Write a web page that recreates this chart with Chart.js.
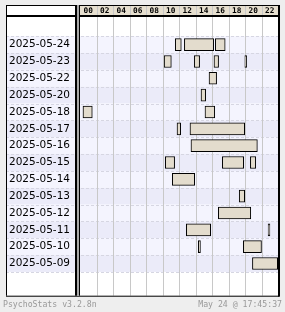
<!DOCTYPE html>
<html>
<head>
<meta charset="utf-8">
<script src="https://cdn.jsdelivr.net/npm/chart.js@4"></script>
<style>
  html, body { margin: 0; padding: 0; background: #eeeeee; }
  #wrap { width: 285px; height: 312px; position: relative; }
</style>
</head>
<body>
<div id="wrap"><canvas id="c"></canvas></div>
<script>
// rows, top to bottom
const days = ['2025-05-24', '2025-05-23', '2025-05-22', '2025-05-20', '2025-05-18', '2025-05-17', '2025-05-16',
              '2025-05-15', '2025-05-14', '2025-05-13', '2025-05-12', '2025-05-11', '2025-05-10', '2025-05-09'];
const hourLabels = ['00', '02', '04', '06', '08', '10', '12', '14', '16', '18', '20', '22'];

// play sessions (hours of the day)
const sessionDay = ['2025-05-24', '2025-05-24', '2025-05-24',
                    '2025-05-23', '2025-05-23', '2025-05-23', '2025-05-23',
                    '2025-05-22', '2025-05-20', '2025-05-18', '2025-05-18',
                    '2025-05-17', '2025-05-17', '2025-05-16',
                    '2025-05-15', '2025-05-15', '2025-05-15',
                    '2025-05-14', '2025-05-13', '2025-05-12',
                    '2025-05-11', '2025-05-11', '2025-05-10', '2025-05-10', '2025-05-09'];
const sessionStart = [11.55, 12.65, 16.4,
                      10.2, 13.85, 16.24, 19.98,
                      15.64, 14.67, 0.36, 15.15,
                      11.76, 13.33, 13.45,
                      10.34, 17.25, 20.65,
                      11.19, 19.3, 16.77,
                      12.89, 22.8, 14.34, 19.8, 20.9];
const sessionEnd = [12.28, 16.2, 17.6,
                    11.07, 14.5, 16.8, 20.2,
                    16.56, 15.23, 1.49, 16.33,
                    12.2, 19.96, 21.5,
                    11.47, 19.84, 21.3,
                    13.9, 19.96, 20.7,
                    15.84, 23.02, 14.6, 22.0, 23.96];

const footLeft = 'PsychoStats v3.2.8n';
const footRight = 'May 24 @ 17:45:37';

const mono = '"DejaVu Sans Mono", monospace';

const frame = {
  id: 'frame',
  beforeDraw(chart) {
    const { ctx, chartArea: a, scales: { x, y } } = chart;
    const L = 6, T = 5;
    ctx.save();
    ctx.fillStyle = '#ffffff';
    ctx.fillRect(L, T, a.right - L, a.bottom - T);
    days.forEach((d, i) => {
      const top = y.getPixelForValue(i - 0.5), bot = y.getPixelForValue(i + 0.5);
      ctx.fillStyle = i % 2 ? '#ebebf9' : '#f4f4fe';
      ctx.fillRect(L, top, a.right - L, bot - top);
    });
    ctx.fillStyle = '#e6dfcf';
    ctx.fillRect(a.left, T, a.right - a.left, a.top - T);

    ctx.lineWidth = 1;
    ctx.strokeStyle = '#d6d6e2';
    ctx.setLineDash([3, 2]);
    for (let i = -1; i < days.length; i++) {
      const py = Math.round(y.getPixelForValue(i + 0.5)) + 0.5;
      ctx.beginPath(); ctx.moveTo(L, py); ctx.lineTo(a.right, py); ctx.stroke();
    }
    ctx.setLineDash([]);
    ctx.strokeStyle = '#c8c8c8';
    for (let h = 2; h < 24; h += 2) {
      const px = Math.round(x.getPixelForValue(h)) + 0.5;
      ctx.beginPath(); ctx.moveTo(px, T); ctx.lineTo(px, a.bottom); ctx.stroke();
    }
    ctx.restore();
  },
  afterDraw(chart) {
    const { ctx, chartArea: a } = chart;
    const L = 6, T = 5, H = a.bottom - T;
    ctx.save();
    ctx.fillStyle = '#000';
    ctx.fillRect(L, T, a.right + 1 - L, 1);
    ctx.fillRect(L, a.bottom, a.right + 1 - L, 1);
    ctx.fillRect(L, T, 1, H);
    ctx.fillRect(a.right, T, 2, H + 1);
    ctx.fillRect(L, a.top - 2, a.right - L, 2);
    ctx.fillRect(75, T, 2, H);
    ctx.fillStyle = '#a8a8a8';
    ctx.fillRect(77, T, 2, H);
    ctx.fillStyle = '#000';
    ctx.fillRect(79, T, 1, H);

    ctx.font = '8.2px ' + mono;
    ctx.fillStyle = '#999999';
    ctx.textBaseline = 'middle';
    ctx.textAlign = 'left';
    ctx.fillText(footLeft, 3, 305);
    ctx.textAlign = 'right';
    ctx.fillText(footRight, 282, 305);
    ctx.restore();
  }
};

new Chart(document.getElementById('c'), {
  type: 'bar',
  data: {
    datasets: [{
      data: sessionDay.map((d, i) => ({ y: days.indexOf(d), x: [sessionStart[i], sessionEnd[i]] })),
      backgroundColor: '#e3dccd',
      borderColor: '#000000',
      borderWidth: 1,
      borderSkipped: false,
      barThickness: 12
    }]
  },
  options: {
    indexAxis: 'y',
    responsive: true,
    maintainAspectRatio: false,
    animation: false,
    devicePixelRatio: 1,
    layout: { padding: { left: 6, right: 7, top: 5, bottom: 15 } },
    plugins: { legend: { display: false }, tooltip: { enabled: false } },
    scales: {
      x: {
        type: 'linear',
        position: 'top',
        min: 0,
        max: 24,
        afterBuildTicks: s => { s.ticks = hourLabels.map((t, i) => ({ value: i * 2 + 1 })); },
        afterFit: s => { s.height = 12; },
        grid: { display: false, drawTicks: false },
        border: { display: false },
        ticks: {
          autoSkip: false,
          maxRotation: 0,
          padding: 2,
          color: '#000',
          font: { family: mono, size: 7.8, weight: 'bold', lineHeight: 1 },
          callback: (v) => hourLabels[(v - 1) / 2]
        }
      },
      y: {
        type: 'linear',
        reverse: true,
        min: -1.049,
        max: 14.32,
        afterBuildTicks: s => { s.ticks = days.map((d, i) => ({ value: i })); },
        afterFit: s => { s.width = 74; },
        grid: { display: false, drawTicks: false },
        border: { display: false },
        ticks: {
          autoSkip: false,
          padding: 10,
          color: '#000',
          font: { family: '"DejaVu Sans", sans-serif', size: 10.5 },
          callback: (v) => days[v]
        }
      }
    }
  },
  plugins: [frame]
});
</script>
</body>
</html>
